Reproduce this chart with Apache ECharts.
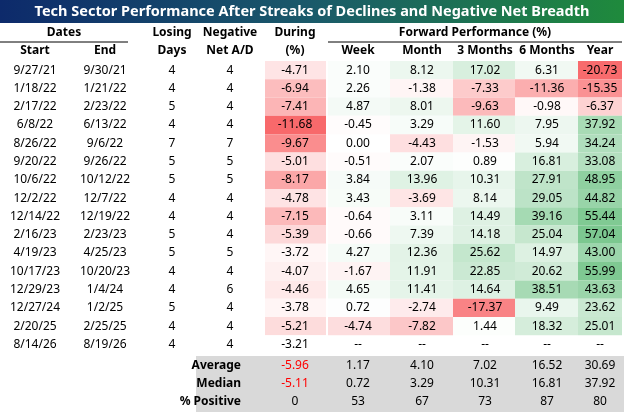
<!DOCTYPE html><html><head><meta charset="utf-8">
<script src="https://cdn.jsdelivr.net/npm/echarts@6/dist/echarts.min.js"></script>
<style>html,body{margin:0;padding:0;background:#fff}#c{width:624px;height:412px}</style></head><body><div id="c"></div>
<script>
const starts=["9/27/21","1/18/22","2/17/22","6/8/22","8/26/22","9/20/22","10/6/22","12/2/22","12/14/22","2/16/23","4/19/23","10/17/23","12/29/23","12/27/24","2/20/25","8/14/26"];
const ends=["9/30/21","1/21/22","2/23/22","6/13/22","9/6/22","9/26/22","10/12/22","12/7/22","12/19/22","2/23/23","4/25/23","10/20/23","1/4/24","1/2/25","2/25/25","8/19/26"];
const losingDays=[4,4,5,4,7,5,5,4,4,5,5,4,4,5,4,4];
const negAD=[4,4,4,4,7,5,5,4,4,4,5,4,6,4,4,4];
const during=[-4.71,-6.94,-7.41,-11.68,-9.67,-5.01,-8.17,-4.78,-7.15,-5.39,-3.72,-4.07,-4.46,-3.78,-5.21,-3.21];
const week=[2.10,2.26,4.87,-0.45,0.00,-0.51,3.84,3.43,-0.64,-0.66,4.27,-1.67,4.65,0.72,-4.74,null];
const month=[8.12,-1.38,8.01,3.29,-4.43,2.07,13.96,-3.69,3.11,7.39,12.36,11.91,11.41,-2.74,-7.82,null];
const m3=[17.02,-7.33,-9.63,11.60,-1.53,0.89,10.31,8.14,14.49,14.18,25.62,22.85,14.64,-17.37,1.44,null];
const m6=[6.31,-11.36,-0.98,7.95,5.94,16.81,27.91,29.05,39.16,25.04,14.97,20.62,38.51,9.49,18.32,null];
const year=[-20.73,-15.35,-6.37,37.92,34.24,33.08,48.95,44.82,55.44,57.04,43.00,55.99,43.63,23.62,25.01,null];
const summaryLabels=["Average","Median","% Positive"];
const summary=[[-5.96,1.17,4.10,7.02,16.52,30.69],[-5.11,0.72,3.29,10.31,16.81,37.92],[0,53,67,73,87,80]];
const forwardHeaders=["Week","Month","3 Months","6 Months","Year"];

const colCenter=[35,105,172,230,295,358,422,485,547,600];
const cellCols={4:[265,326],5:[328,390],6:[390,453],7:[453,515],8:[515,578],9:[578,622]};
const numCols=[during,week,month,m3,m6,year];
const F='"Noto Sans", sans-serif';
function mix(c,t){t=Math.max(0,Math.min(1,t));return `rgb(${Math.round(255+(c[0]-255)*t)},${Math.round(255+(c[1]-255)*t)},${Math.round(255+(c[2]-255)*t)})`;}
const RED=[248,105,107],GREEN=[99,190,123];
function colorFor(ci,v){
  if(ci===0){const mn=Math.min(...during),mx=Math.max(...during);return mix(RED,(mx-v)/(mx-mn));}
  if(v<0)return mix(RED,-v/21);return mix(GREEN,v/68);
}
const data=[];
for(let r=0;r<starts.length;r++){
  const txt=[starts[r],ends[r],String(losingDays[r]),String(negAD[r])];
  txt.forEach((t,ci)=>data.push({value:[ci,r],t,bg:null}));
  numCols.forEach((a,k)=>{const v=a[r];data.push({value:[4+k,r],t:v==null?'--':v.toFixed(2),bg:v==null?null:colorFor(k,v)});});
}
summary.forEach((row,i)=>{
  const r=16.15+i;
  data.push({value:[3,r],t:summaryLabels[i],bold:true,right:true,bg:null});
  row.forEach((v,k)=>data.push({value:[4+k,r],t:i===2?String(v):v.toFixed(2),red:k===0&&i<2,bg:null}));
});
const chart=echarts.init(document.getElementById('c'));
const hdr=(x,y,t,o={})=>({type:'text',x,y,style:Object.assign({text:t,font:`bold 12px ${F}`,fill:'#000',align:'center',verticalAlign:'middle'},o)});
chart.setOption({
  animation:false,
  grid:{left:0,right:0,top:61,bottom:-1},
  xAxis:{type:'value',min:0,max:624,show:false},
  yAxis:{type:'value',min:-0.5,max:18.7,inverse:true,show:false},
  graphic:[
    {type:'rect',shape:{x:0,y:0,width:624,height:23},style:{fill:new echarts.graphic.LinearGradient(0,0,1,0,[{offset:0,color:'#0d2a6b'},{offset:0.5,color:'#1a5a6a'},{offset:1,color:'#1f8a3c'}])}},
    {type:'text',x:312,y:12,style:{text:'Tech Sector Performance After Streaks of Declines and Negative Net Breadth',font:`bold 14.5px ${F}`,fill:'#fff',align:'center',verticalAlign:'middle'}},
    {type:'rect',shape:{x:196,y:356,width:428,height:56},style:{fill:'#d9d9d9'},z:-1},
    hdr(64,33,'Dates'),{type:'line',shape:{x1:0,y1:42,x2:128,y2:42},style:{stroke:'#000',lineWidth:1}},
    hdr(35,51,'Start'),hdr(105,51,'End'),
    hdr(172,33,'Losing'),hdr(172,51,'Days'),
    hdr(230,33,'Negative'),hdr(230,51,'Net A/D'),
    hdr(295,33,'During'),hdr(295,51,'(%)'),
    hdr(475,33,'Forward Performance (%)'),{type:'line',shape:{x1:328,y1:42,x2:622,y2:42},style:{stroke:'#000',lineWidth:1}},
    ...forwardHeaders.map((h,i)=>hdr(colCenter[5+i],51,h))
  ],
  series:[{type:'custom',coordinateSystem:'cartesian2d',data,
    renderItem:(params,api)=>{
      const d=data[params.dataIndex];const ci=api.value(0),r=api.value(1);
      const p0=api.coord([0,r-0.5]),p1=api.coord([0,r+0.5]);const yc=(p0[1]+p1[1])/2;
      const ch=[];
      if(d.bg){const c=cellCols[ci];ch.push({type:'rect',shape:{x:c[0],y:p0[1],width:c[1]-c[0],height:p1[1]-p0[1]},style:{fill:d.bg}});}
      const x=api.coord([colCenter[ci],0])[0];
      ch.push({type:'text',style:{x:d.right?241:x,y:yc,text:d.t,font:`${d.bold?'bold ':''}12px ${F}`,fill:d.red?'#ff0000':'#000',align:d.right?'right':'center',verticalAlign:'middle'}});
      return {type:'group',children:ch};
    }}]
});
</script></body></html>
